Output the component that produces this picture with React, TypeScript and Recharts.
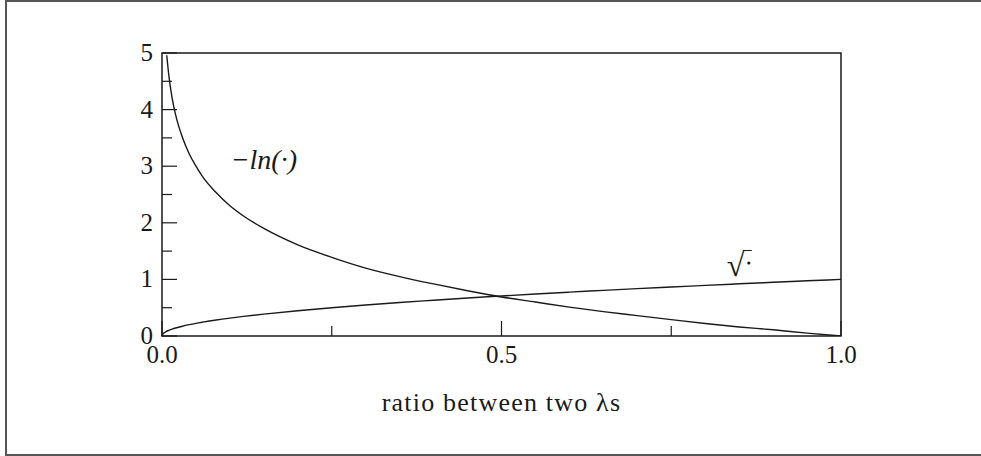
import React from "react";
import {
  LineChart,
  Line,
  XAxis,
  YAxis,
  ReferenceArea,
  ReferenceDot,
} from "recharts";

// -ln(r) sampled along the ratio axis
const lnRatio = [
  0.007, 0.01, 0.015, 0.02, 0.03, 0.04, 0.05, 0.06, 0.08, 0.1, 0.12, 0.15, 0.2,
  0.25, 0.3, 0.35, 0.4, 0.45, 0.5, 0.55, 0.6, 0.65, 0.7, 0.75, 0.8, 0.85, 0.9,
  0.95, 1.0,
];
const lnValues = [
  4.96, 4.61, 4.2, 3.91, 3.51, 3.22, 3.0, 2.81, 2.53, 2.3, 2.12, 1.9, 1.61,
  1.39, 1.2, 1.05, 0.92, 0.8, 0.69, 0.6, 0.51, 0.43, 0.36, 0.29, 0.22, 0.16,
  0.11, 0.05, 0.0,
];

// sqrt(r) sampled along the ratio axis
const rootRatio = [
  0, 0.002, 0.005, 0.01, 0.015, 0.02, 0.03, 0.04, 0.05, 0.06, 0.08, 0.1, 0.12,
  0.15, 0.2, 0.25, 0.3, 0.35, 0.4, 0.45, 0.5, 0.55, 0.6, 0.65, 0.7, 0.75, 0.8,
  0.85, 0.9, 0.95, 1.0,
];
const rootValues = [
  0, 0.045, 0.071, 0.1, 0.122, 0.141, 0.173, 0.2, 0.224, 0.245, 0.283, 0.316,
  0.346, 0.387, 0.447, 0.5, 0.548, 0.592, 0.632, 0.671, 0.707, 0.742, 0.775,
  0.806, 0.837, 0.866, 0.894, 0.922, 0.949, 0.975, 1.0,
];

const xTicks = [0, 0.25, 0.5, 0.75, 1];
const xLabels: Record<string, string> = { "0": "0.0", "0.5": "0.5", "1": "1.0" };
const yTicks = [0, 0.5, 1, 1.5, 2, 2.5, 3, 3.5, 4, 4.5, 5];

const lnData = lnRatio.map((x, i) => ({ x, y: lnValues[i] }));
const rootData = rootRatio.map((x, i) => ({ x, y: rootValues[i] }));

const FONT = "'Liberation Serif', 'DejaVu Serif', serif";
const INK = "#1a1a1a";
const SIZE = 25;

// ticks point into the plot; only the labelled ones are long
const renderXTick = (props: any) => {
  const { x, y, payload } = props;
  const label = xLabels[String(payload.value)];
  const len = label ? 15 : 10;
  return (
    <g key={`xt-${payload.value}`}>
      <line x1={x} x2={x} y1={y} y2={y - len} stroke={INK} strokeWidth={1.2} />
      {label && (
        <text x={x} y={y + 27} textAnchor="middle" fontFamily={FONT} fontSize={SIZE} fill={INK}>
          {label}
        </text>
      )}
    </g>
  );
};

const renderYTick = (props: any) => {
  const { x, y, payload } = props;
  const major = Number.isInteger(payload.value);
  const len = major ? 15 : 10;
  return (
    <g key={`yt-${payload.value}`}>
      <line x1={x} x2={x + len} y1={y} y2={y} stroke={INK} strokeWidth={1.2} />
      {major && (
        <text x={x - 9} y={y + 8} textAnchor="end" fontFamily={FONT} fontSize={SIZE} fill={INK}>
          {payload.value}
        </text>
      )}
    </g>
  );
};

const lnLabel = (props: any) => {
  const { viewBox } = props;
  const cx = viewBox.x + (viewBox.width || 0) / 2;
  const cy = viewBox.y + (viewBox.height || 0) / 2;
  return (
    <text x={cx} y={cy + 9} textAnchor="middle" fontFamily={FONT} fontStyle="italic" fontSize={28} fill={INK}>
      −ln(·)
    </text>
  );
};

// radical sign with a short bar over the dot
const rootLabel = (props: any) => {
  const { viewBox } = props;
  const cx = viewBox.x + (viewBox.width || 0) / 2;
  const cy = viewBox.y + (viewBox.height || 0) / 2;
  return (
    <g>
      <text x={cx - 13} y={cy + 13} fontFamily={FONT} fontSize={32} fill={INK}>
        √
      </text>
      <line x1={cx + 3} x2={cx + 12} y1={cy - 12.5} y2={cy - 12.5} stroke={INK} strokeWidth={1} />
      <circle cx={cx + 9} cy={cy} r={1.6} fill={INK} />
    </g>
  );
};

export default function App() {
  return (
    <div style={{ position: "absolute", left: 0, top: 0, width: 981, height: 456, overflow: "hidden", background: "#fff" }}>
      <div
        style={{
          position: "absolute",
          left: 5,
          top: 0,
          width: 1000,
          height: 456,
          border: "2px solid #555",
          boxSizing: "border-box",
        }}
      />
      <LineChart width={981} height={456} margin={{ top: 53, right: 140, bottom: 119, left: 161 }}>
        <XAxis
          dataKey="x"
          type="number"
          domain={[0, 1]}
          ticks={xTicks}
          tick={renderXTick}
          tickSize={0}
          tickMargin={0}
          tickLine={false}
          axisLine={false}
          height={1}
          interval={0}
          label={{
            value: "ratio between two λs",
            position: "insideBottom",
            offset: -74,
            fontFamily: FONT,
            fontSize: 26,
            letterSpacing: 1.2,
            fill: INK,
          }}
        />
        <YAxis
          type="number"
          domain={[0, 5]}
          ticks={yTicks}
          tick={renderYTick}
          tickSize={0}
          tickMargin={0}
          tickLine={false}
          axisLine={false}
          width={1}
          interval={0}
          allowDataOverflow
        />
        <ReferenceArea x1={0} x2={1} y1={0} y2={5} fill="none" stroke={INK} strokeWidth={1.5} ifOverflow="visible" />
        <Line data={lnData} dataKey="y" type="monotone" dot={false} stroke={INK} strokeWidth={1.4} isAnimationActive={false} />
        <Line data={rootData} dataKey="y" type="monotone" dot={false} stroke={INK} strokeWidth={1.4} isAnimationActive={false} />
        <ReferenceDot x={0.15} y={3.11} r={0} fill="none" stroke="none" label={lnLabel} />
        <ReferenceDot x={0.851} y={1.29} r={0} fill="none" stroke="none" label={rootLabel} />
      </LineChart>
    </div>
  );
}
